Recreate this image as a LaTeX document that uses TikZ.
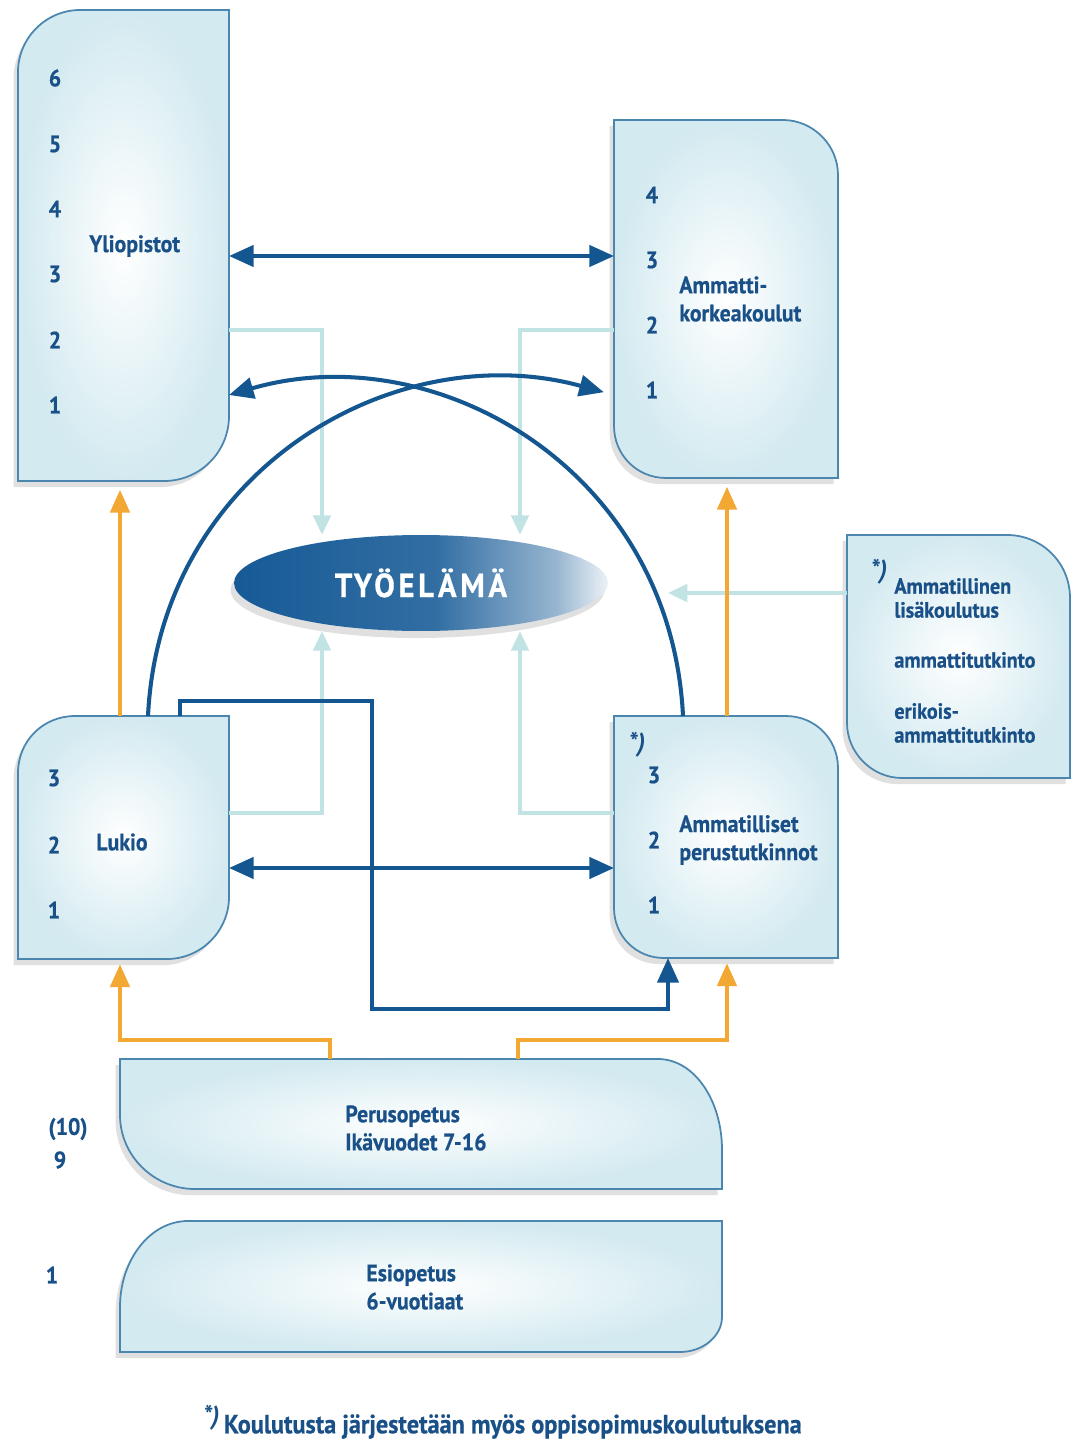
\documentclass[tikz,border=0pt]{standalone}
\usepackage{fontspec}
\setmainfont{PT Sans}[FakeStretch=0.92, BoldFeatures={FakeBold=0.6}]
\usetikzlibrary{arrows.meta,fit,shapes.geometric}
\definecolor{dkblue}{HTML}{14568F}
\definecolor{txtblue}{HTML}{1A5088}
\definecolor{boxline}{HTML}{4B86AF}
\definecolor{boxfill}{HTML}{D3EAF0}
\definecolor{orangeline}{HTML}{F2A833}
\definecolor{cyanline}{HTML}{C2E3E3}
\definecolor{shadowc}{HTML}{E0E0E0}
\definecolor{tyoblue}{HTML}{165A96}
\pgfdeclarehorizontalshading{tyoshade}{100bp}{color(0bp)=(tyoblue); color(25bp)=(tyoblue); color(52bp)=(tyoblue!88!white); color(68bp)=(tyoblue!45!white); color(75bp)=(tyoblue!8!white); color(100bp)=(tyoblue!8!white)}
\tikzset{
  box/.style={draw=boxline, line width=1pt, inner color=white, outer color=boxfill,
    preaction={fill=shadowc, transform canvas={xshift=-2.5pt, yshift=-3.5pt}}},
  area/.style={inner sep=0pt, outer sep=0pt},
  lbl/.style={text=txtblue, inner sep=0pt, align=left,
    font=\fontsize{13.5}{16}\selectfont\bfseries},
  small lbl/.style={lbl, font=\fontsize{12.5}{13.6}\selectfont\bfseries},
  star/.style={lbl, font=\fontsize{15}{16}\selectfont\bfseries\itshape},
  dkl/.style={draw=dkblue, line width=2.3pt, >={Triangle[length=14pt,width=12pt]}},
  orl/.style={draw=orangeline, line width=2.2pt, >={Triangle[length=13pt,width=11pt]}, ->},
  cyl/.style={draw=cyanline, line width=1.9pt, >={Triangle[length=11pt,width=10pt]}, ->}
}
\begin{document}
\begin{tikzpicture}[x=0.02cm, y=-0.02cm]
\useasboundingbox (0,0) rectangle (1080,1443);

% boxes
\draw[box] (18,481) -- (18,72) .. controls (18,38) and (46,10) .. (80,10) -- (229,10)
  -- (229,416) .. controls (229,452) and (200,481) .. (164,481) -- cycle;
\node[area, fit={(18,10) (229,481)}] (yo) {};
\draw[box] (614,120) -- (783,120) .. controls (813,120) and (838,145) .. (838,175)
  -- (838,478) -- (666,478) .. controls (637,478) and (614,455) .. (614,426) -- cycle;
\node[area, fit={(614,120) (838,478)}] (amk) {};
\draw[box] (18,959) -- (18,773) .. controls (18,741) and (43,716) .. (75,716) -- (229,716)
  -- (229,897) .. controls (229,931) and (201,959) .. (167,959) -- cycle;
\node[area, fit={(18,716) (229,959)}] (lu) {};
\draw[box] (614,716) -- (786,716) .. controls (815,716) and (838,739) .. (838,768)
  -- (838,958) -- (664,958) .. controls (636,958) and (614,936) .. (614,908) -- cycle;
\node[area, fit={(614,716) (838,958)}] (ap) {};
\draw[box] (847,535) -- (1007,535) .. controls (1042,535) and (1070,563) .. (1070,598)
  -- (1070,778) -- (902,778) .. controls (872,778) and (847,753) .. (847,723) -- cycle;
\node[area, fit={(847,535) (1070,778)}] (lk) {};
\draw[box] (120,1059) -- (658,1059) .. controls (694,1059) and (722,1100) .. (722,1150)
  -- (722,1189) -- (195,1189) .. controls (154,1189) and (120,1156) .. (120,1115) -- cycle;
\node[area, fit={(120,1059) (722,1189)}] (pe) {};
\draw[box] (120,1352) -- (120,1307) .. controls (120,1260) and (150,1221) .. (188,1221)
  -- (722,1221) -- (722,1317) .. controls (722,1336) and (703,1352) .. (680,1352) -- cycle;
\node[area, fit={(120,1221) (722,1352)}] (es) {};

% tyoelama
\node[ellipse, minimum width=7.48cm, minimum height=1.92cm, inner sep=0pt,
  shade, shading=tyoshade, text=white,
  preaction={fill=shadowc, transform canvas={xshift=-2pt, yshift=-4pt}},
  font=\fontsize{19}{20}\selectfont\bfseries\addfontfeature{LetterSpace=11}]
  (tyo) at (421,583) {TYÖELÄMÄ};

% texts
\foreach \n/\y in {6/78,5/144,4/209,3/274,2/340,1/405}
  \node[lbl] (yo-\n) at (55,\y) {\n};
\node[lbl, anchor=west] (yo-t) at (89,246) {Yliopistot};
\foreach \n/\y in {4/195,3/260,2/325,1/390}
  \node[lbl] (amk-\n) at (652,\y) {\n};
\node[lbl, anchor=west] (amk-t) at (679,299) {Ammatti-\\korkeakoulut};
\foreach \n/\y in {3/778,2/845,1/910}
  \node[lbl] (lu-\n) at (54,\y) {\n};
\node[lbl, anchor=west] (lu-t) at (96,842) {Lukio};
\node[star] (ap-s) at (637,745) {*)};
\foreach \n/\y in {3/775,2/840,1/905}
  \node[lbl] (ap-\n) at (654,\y) {\n};
\node[lbl, anchor=west] (ap-t) at (679,840) {Ammatilliset\\perustutkinnot};
\node[star] (lk-s) at (879,572) {*)};
\node[small lbl, anchor=west] (lk-a) at (894,598) {Ammatillinen\\lisäkoulutus};
\node[small lbl, anchor=west] (lk-b) at (894,660) {ammattitutkinto};
\node[small lbl, anchor=west] (lk-c) at (894,723) {erikois-\\ammattitutkinto};
\node[lbl, anchor=west] (pe-t) at (345,1128) {Perusopetus\\Ikävuodet 7-16};
\node[lbl, anchor=west] (es-t) at (366,1287) {Esiopetus\\6-vuotiaat};
\node[lbl] (pe-a) at (68,1129) {(10)};
\node[lbl] (pe-b) at (60,1160) {9};
\node[lbl] (es-a) at (52,1275) {1};
\node[lbl, anchor=west, font=\fontsize{15}{16}\selectfont\bfseries] (foot) at (203,1422)
  {\raisebox{5pt}{\fontsize{15}{16}\selectfont\itshape *)}\,Koulutusta järjestetään myös oppisopimuskoulutuksena};

% helper coordinates
\coordinate (r256) at (0,256);
\coordinate (r330) at (0,330);
\coordinate (r395) at (0,395);
\coordinate (r593) at (0,593);
\coordinate (r813) at (0,813);
\coordinate (r868) at (0,868);
\coordinate (ob) at (0,1040);
\coordinate (k120) at (120,0);
\coordinate (k148) at (148,0);
\coordinate (k180) at (180,0);
\coordinate (k322) at (322,0);
\coordinate (k330) at (330,0);
\coordinate (k518) at (518,0);
\coordinate (k520) at (520,0);
\coordinate (k668) at (668,0);
\coordinate (k683) at (683,0);
\coordinate (k727) at (727,0);
\coordinate (lkend) at (668,593);
\coordinate (kA) at (372,701);
\coordinate (kB) at (372,1009);

% light connectors to tyoelama
\draw[cyl] (yo.east |- r330) -| (tyo.north -| k322);
\draw[cyl] (amk.west |- r330) -| (tyo.north -| k520);
\draw[cyl] (lu.east |- r813) -| (tyo.south -| k322);
\draw[cyl] (ap.west |- r813) -| (tyo.south -| k520);
\draw[cyl] (lk.west |- r593) -- (lkend);

% orange
\draw[orl, shorten >=5pt] (lu.north -| k120) -- (yo.south -| k120);
\draw[orl, shorten >=5pt] (ap.north -| k727) -- (amk.south -| k727);
\draw[orl, shorten >=3pt] (pe.north -| k330) |- (ob -| k120) -- (lu.south -| k120);
\draw[orl, shorten >=3pt] (pe.north -| k518) |- (ob -| k727) -- (ap.south -| k727);

% dark blue
\draw[dkl, <->] (yo.east |- r256) -- (amk.west |- r256);
\draw[dkl, <->] (lu.east |- r868) -- (ap.west |- r868);
\draw[dkl, ->, shorten >=6pt] (lu.north -| k148) .. controls (160,470) and (395,335) .. (amk.west |- r395);
\draw[dkl, ->] (ap.north -| k683) .. controls (671,470) and (436,335) .. (yo.east |- r395);
\draw[dkl, ->] (lu.north -| k180) |- (kA) -- (kB) -| (ap.south -| k668);
\end{tikzpicture}
\end{document}
